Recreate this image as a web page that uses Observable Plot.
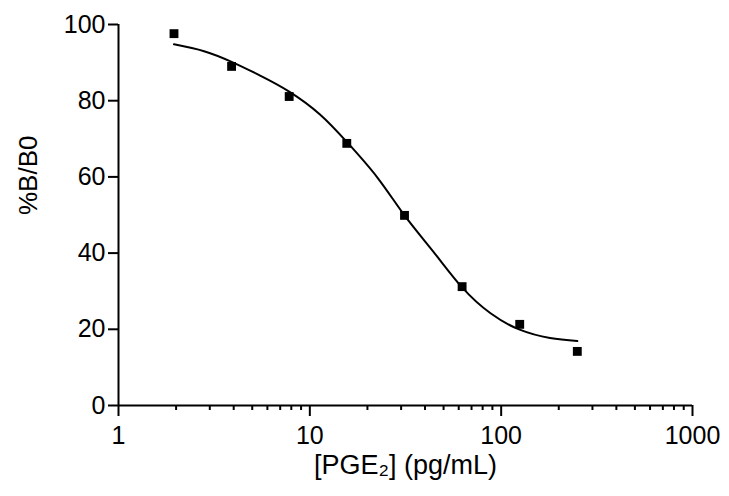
<!DOCTYPE html>
<html>
<head>
<meta charset="utf-8">
<script src="https://cdn.jsdelivr.net/npm/d3@7"></script>
<script src="https://cdn.jsdelivr.net/npm/@observablehq/plot@0.6"></script>
<style>
  body { margin: 0; background: #fff; }
  #chart svg { display: block; }
</style>
</head>
<body>
<div id="chart"></div>
<script>
// Standard points: PGE2 concentration (pg/mL) and %B/B0
const concentrations = [1.95, 3.9, 7.8, 15.6, 31.25, 62.5, 125, 250];
const percentBB0 = [97.6, 89.0, 81.1, 68.8, 49.9, 31.2, 21.3, 14.2];

// Fitted curve
const fitConcentrations = [1.95, 2.8, 3.9, 5.5, 7.8, 11.3, 15.6, 22.5, 31.25, 44.5, 62.5, 88, 125, 180, 250];
const fitPercent = [94.8, 93.0, 90.2, 86.6, 82.4, 76.4, 69.2, 59.9, 49.9, 40.2, 31.0, 24.2, 19.9, 17.7, 16.9];

// Tick labels
const yTicks = [0, 20, 40, 60, 80, 100];
const xMajorTicks = [1, 10, 100, 1000];
const xMinorTicks = [2, 3, 4, 5, 6, 7, 8, 9, 20, 30, 40, 50, 60, 70, 80, 90, 200, 300, 400, 500, 600, 700, 800, 900];

const yLabel = "%B/B0";
const xLabel = "[PGE₂] (pg/mL)";

const points = concentrations.map((x, i) => ({x, y: percentBB0[i]}));
const fit = fitConcentrations.map((x, i) => ({x, y: fitPercent[i]}));

const font = "'Liberation Sans', Arial, Helvetica, sans-serif";
const fs = 25;

const chart = Plot.plot({
  width: 729,
  height: 496,
  marginLeft: 118,
  marginRight: 37,
  marginTop: 24,
  marginBottom: 91,
  style: {fontFamily: font, fontSize: fs + "px", color: "#000", background: "#fff"},
  x: {type: "log", domain: [1, 1000], axis: null},
  y: {domain: [0, 100], axis: null},
  marks: [
    Plot.axisY(yTicks, {tickSize: 10, tickPadding: 3, strokeWidth: 2, fontSize: fs, label: null, tickFormat: d => String(d)}),
    Plot.axisX(xMinorTicks, {tickSize: 5, strokeWidth: 2, tickFormat: () => "", label: null}),
    Plot.axisX(xMajorTicks, {tickSize: 11, strokeWidth: 2, tickPadding: 10, fontSize: fs, label: null, tickFormat: d => String(d)}),
    Plot.ruleY([0], {strokeWidth: 2}),
    Plot.ruleX([1], {strokeWidth: 2}),
    Plot.line(fit, {x: "x", y: "y", curve: "natural", strokeWidth: 2, stroke: "black"}),
    Plot.dot(points, {x: "x", y: "y", symbol: "square", r: 5, fill: "black", stroke: "none"}),
    Plot.text([yLabel], {frameAnchor: "left", dx: -90, rotate: -90, fontSize: 26}),
    Plot.text([xLabel], {frameAnchor: "bottom", dy: 68, fontSize: 27})
  ]
});

document.getElementById("chart").appendChild(chart);
</script>
</body>
</html>
